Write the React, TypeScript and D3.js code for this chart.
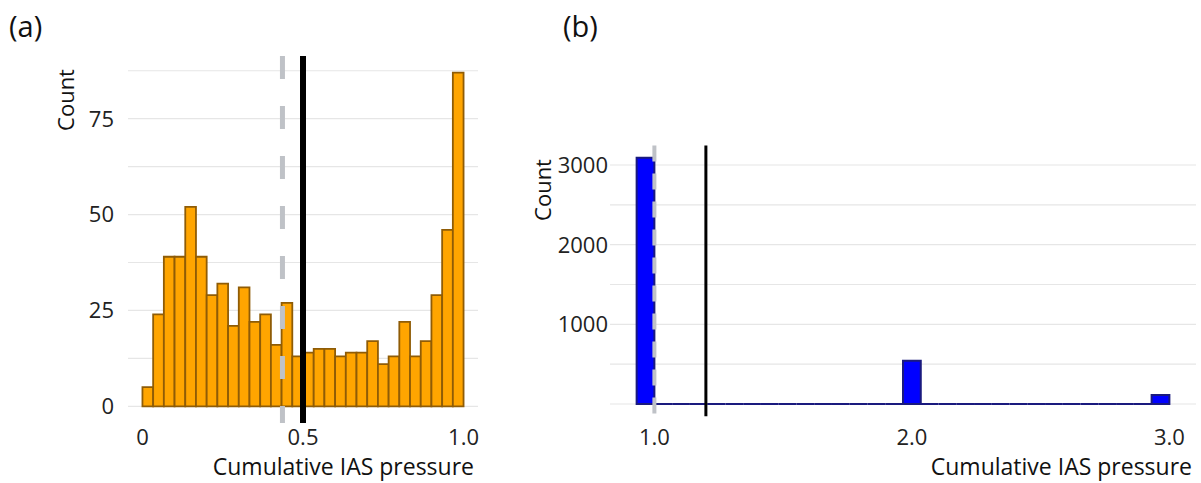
import { useEffect, useRef } from "react";
import * as d3 from "d3";

// Panel (a): counts per bin of cumulative IAS pressure (30 bins over 0..1)
const countsA = [
  5, 24, 39, 39, 52, 39, 29, 32, 21, 31, 22, 24, 16, 27, 13,
  14, 15, 15, 13, 14, 14, 17, 11, 13, 22, 13, 17, 29, 46, 87,
];
const xTicksA = [0, 0.5, 1];
const xTickLabelsA = ["0", "0.5", "1.0"];
const yLabelsA = [0, 25, 50, 75];
const yGridA = [0, 12.5, 25, 37.5, 50, 62.5, 75, 87.5];
const medianA = 0.436;
const meanA = 0.5;

// Panel (b): counts per bin (30 bins over 1..3)
const countsB = [
  3090, 0, 0, 0, 0, 0, 0, 0, 0, 0, 0, 0, 0, 0, 0,
  543, 0, 0, 0, 0, 0, 0, 0, 0, 0, 0, 0, 0, 0, 113,
];
const xTicksB = [1, 2, 3];
const xTickLabelsB = ["1.0", "2.0", "3.0"];
const yLabelsB = [1000, 2000, 3000];
const yGridB = [0, 500, 1000, 1500, 2000, 2500, 3000];
const medianB = 1;
const meanB = 1.2;

const W = 1201;
const H = 483;
const FONT = "'Open Sans', sans-serif";

type Bin = { x0: number; x1: number; count: number };

const drawPanel = (
  g: d3.Selection<SVGGElement, unknown, null, undefined>,
  opts: {
    bins: Bin[];
    x: d3.ScaleLinear<number, number>;
    y: d3.ScaleLinear<number, number>;
    grid: number[];
    yLabels: number[];
    xTicks: number[];
    xTickLabels: string[];
    fill: string;
    stroke: string;
    strokeWidth: number;
    median: number;
    mean: number;
    dash: string;
    dashWidth: number;
    meanWidth: number;
    labelPad: number;
    letter: string;
    letterX: number;
    countX: number;
    countY: number;
  }
) => {
  const { x, y } = opts;
  const [x0, x1] = x.range();
  const [yb, yt] = y.range();

  // grid lines
  g.append("g")
    .selectAll("line")
    .data(opts.grid)
    .join("line")
    .attr("x1", x0)
    .attr("x2", x1)
    .attr("y1", d => y(d))
    .attr("y2", d => y(d))
    .attr("stroke", "#e6e6e6")
    .attr("stroke-width", 1.2);

  // histogram bars (paths so that empty bins still show their outline)
  g.append("g")
    .selectAll("path")
    .data(opts.bins)
    .join("path")
    .attr("d", d => `M${x(d.x0)},${y(0)}V${y(d.count)}H${x(d.x1)}V${y(0)}Z`)
    .attr("fill", opts.fill)
    .attr("stroke", opts.stroke)
    .attr("stroke-width", opts.strokeWidth);

  // median (dashed grey) and mean (black)
  g.append("line")
    .attr("x1", x(opts.median))
    .attr("x2", x(opts.median))
    .attr("y1", yt)
    .attr("y2", yb)
    .attr("stroke", "#bfc2c7")
    .attr("stroke-width", opts.dashWidth)
    .attr("stroke-dasharray", opts.dash);
  g.append("line")
    .attr("x1", x(opts.mean))
    .attr("x2", x(opts.mean))
    .attr("y1", yt)
    .attr("y2", yb)
    .attr("stroke", "#000")
    .attr("stroke-width", opts.meanWidth);

  // y tick labels
  g.append("g")
    .selectAll("text")
    .data(opts.yLabels)
    .join("text")
    .attr("x", x0 - opts.labelPad)
    .attr("y", d => y(d))
    .attr("dy", "0.36em")
    .attr("text-anchor", "end")
    .attr("font-family", FONT)
    .attr("font-size", 22)
    .attr("fill", "#222")
    .text(d => d);

  // x tick labels
  g.append("g")
    .selectAll("text")
    .data(opts.xTicks)
    .join("text")
    .attr("x", d => x(d))
    .attr("y", 445)
    .attr("text-anchor", "middle")
    .attr("font-family", FONT)
    .attr("font-size", 22)
    .attr("fill", "#222")
    .text((d, i) => opts.xTickLabels[i]);

  // axis titles
  g.append("text")
    .attr("x", x1 - 4)
    .attr("y", 475)
    .attr("text-anchor", "end")
    .attr("font-family", FONT)
    .attr("font-size", 23)
    .attr("fill", "#111")
    .text("Cumulative IAS pressure");
  g.append("text")
    .attr("transform", `translate(${opts.countX},${opts.countY}) rotate(-90)`)
    .attr("text-anchor", "middle")
    .attr("font-family", FONT)
    .attr("font-size", 22)
    .attr("fill", "#111")
    .text("Count");

  // panel letter
  g.append("text")
    .attr("x", opts.letterX)
    .attr("y", 37)
    .attr("font-family", FONT)
    .attr("font-size", 29)
    .attr("fill", "#111")
    .text(opts.letter);
};

const drawChart = (svgEl: SVGSVGElement) => {
  const svg = d3.select(svgEl);
  svg.selectAll("*").remove();

  // Panel (a)
  const binsA: Bin[] = countsA.map((c, i) => ({
    x0: i / countsA.length,
    x1: (i + 1) / countsA.length,
    count: c,
  }));
  const xA = d3.scaleLinear().domain([-0.045, 1.045]).range([128, 478]);
  const yA = d3.scaleLinear().domain([-4.35, 91.35]).range([423, 56]);
  drawPanel(svg.append("g"), {
    bins: binsA,
    x: xA,
    y: yA,
    grid: yGridA,
    yLabels: yLabelsA,
    xTicks: xTicksA,
    xTickLabels: xTickLabelsA,
    fill: "#ffa500",
    stroke: "#8f5c06",
    strokeWidth: 1.8,
    median: medianA,
    mean: meanA,
    dash: "23 27",
    dashWidth: 5,
    meanWidth: 6,
    labelPad: 14,
    letter: "(a)",
    letterX: 9,
    countX: 74,
    countY: 100,
  });

  // Panel (b)
  const wB = (xTicksB[2] - xTicksB[0]) / (countsB.length - 1);
  const binsB: Bin[] = countsB.map((c, i) => ({
    x0: xTicksB[0] + (i - 1) * wB,
    x1: xTicksB[0] + i * wB,
    count: c,
  }));
  const xB = d3.scaleLinear().domain([0.8276, 3.1034]).range([610, 1196]);
  const yB = d3.scaleLinear().domain([-154.5, 3244.5]).range([416.3, 145.5]);
  drawPanel(svg.append("g"), {
    bins: binsB,
    x: xB,
    y: yB,
    grid: yGridB,
    yLabels: yLabelsB,
    xTicks: xTicksB,
    xTickLabels: xTickLabelsB,
    fill: "#0000ff",
    stroke: "#1a1a7e",
    strokeWidth: 2,
    median: medianB,
    mean: meanB,
    dash: "16 12",
    dashWidth: 4,
    meanWidth: 3,
    labelPad: 2,
    letter: "(b)",
    letterX: 563,
    countX: 551,
    countY: 190,
  });
};

export default function App() {
  const ref = useRef<SVGSVGElement>(null);

  useEffect(() => {
    if (ref.current) drawChart(ref.current);
  }, []);

  return (
    <svg
      ref={ref}
      width={W}
      height={H}
      style={{ position: "absolute", left: 0, top: 0, background: "#fff" }}
    />
  );
}
